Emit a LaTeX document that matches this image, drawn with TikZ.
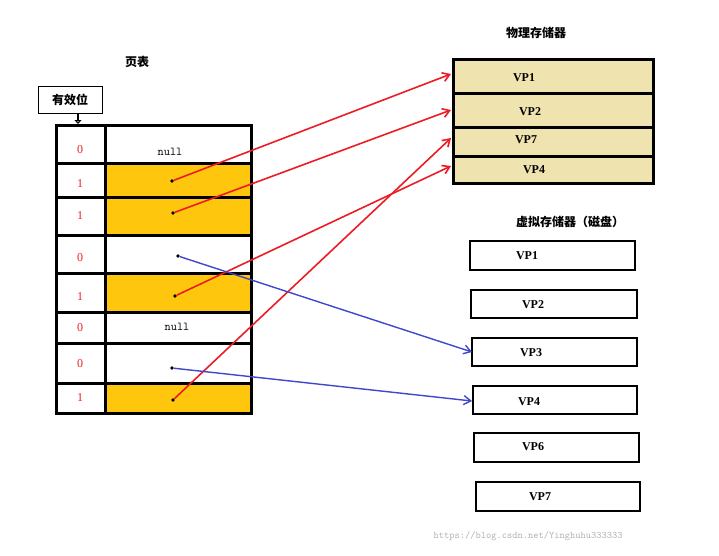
\documentclass[tikz,border=0pt]{standalone}
\usepackage{fontspec}
\setmainfont{Liberation Serif}
\newfontfamily\cjk{Noto Sans CJK SC}
\usetikzlibrary{arrows.meta}
\definecolor{gold}{RGB}{255,198,14}
\definecolor{beige}{RGB}{239,227,176}
\definecolor{myred}{RGB}{237,28,36}
\definecolor{myblue}{RGB}{63,72,204}
\begin{document}
\begin{tikzpicture}[x=1pt,y=-1pt,
 red/.style={myred,line width=1.6pt,-{Straight Barb[length=7pt,width=9pt]}},
 blue/.style={myblue,line width=1.4pt,-{Straight Barb[length=7pt,width=9pt]}},
 dot/.style={circle,fill=black,inner sep=1.3pt},
 bit/.style={text=myred,font=\large},
 vbox/.style={draw,line width=1.6pt,font=\bfseries\large},
 title/.style={font=\cjk\bfseries\large}]
\useasboundingbox (0,0) rectangle (719,555);
% table
\foreach \a/\b in {163/197,197/235,273/312,383/413} \fill[gold] (105,\a) rectangle (251,\b);
\draw[line width=3pt] (56,125) rectangle (251,413);
\foreach \y in {163,197,235,273,312,343,383} \draw[line width=3pt] (56,\y) -- (251,\y);
\draw[line width=3pt] (105,125) -- (105,413);
\foreach \y/\v [count=\i] in {150/0,184/1,216/1,258/0,297/1,328/0,364/0,398/1} \node[bit] (b\i) at (80,\y) {\v};
\node[font=\ttfamily\large] (n1) at (170,152) {null};
\node[font=\ttfamily\large] (n2) at (177,327) {null};
\node[title] (pt) at (137,62) {页表};
\node[draw,font=\cjk\bfseries\large,inner sep=1pt,minimum width=64pt,minimum height=27pt] (valid) at (70,100) {有效位};
\draw[line width=1.2pt,-{Triangle[open,length=4pt,width=7pt]}] (78,114) -- (78,124);
% dots
\node[dot] (d2) at (172,181) {};
\node[dot] (d3) at (173,213) {};
\node[dot] (d4) at (178,256) {};
\node[dot] (d5) at (175,296) {};
\node[dot] (d7) at (172,368) {};
\node[dot] (d8) at (173,400) {};
% physical memory
\node[title] (phy) at (536,33) {物理存储器};
\fill[beige] (453,59) rectangle (653,183);
\draw[line width=3pt] (453,59) rectangle (653,183);
\foreach \y in {93,127,156} \draw[line width=3pt] (453,\y) -- (653,\y);
\node[font=\bfseries\large] (p1) at (524,78) {VP1};
\node[font=\bfseries\large] (p2) at (530,112) {VP2};
\node[font=\bfseries\large] (p7) at (526,140) {VP7};
\node[font=\bfseries\large] (p4) at (534,170) {VP4};
\coordinate (t1) at (451,74);
\coordinate (t2) at (451,110);
\coordinate (t7) at (451,138);
\coordinate (t4) at (451,166);
% virtual
\node[title] (vir) at (570,222) {虚拟存储器（磁盘）};
\foreach \n/\x/\y/\xx/\yy in {v1/470/241/635/270, v2/471/290/637/318, v3/472/338/637/366, v4/473/386/637/414, v6/474/433/639/462, v7/476/482/640/511}
  \draw[line width=1.6pt] (\x,\y) rectangle (\xx,\yy);
\node[font=\bfseries\large] (q1) at (527,256) {VP1};
\node[font=\bfseries\large] (q2) at (533,305) {VP2};
\node[font=\bfseries\large] (q3) at (531,353) {VP3};
\node[font=\bfseries\large] (q4) at (529,402) {VP4};
\node[font=\bfseries\large] (q6) at (533,447) {VP6};
\node[font=\bfseries\large] (q7) at (540,497) {VP7};
\coordinate (s3) at (472,352);
\coordinate (s4) at (472,401);
% arrows
\draw[red] (d2) -- (t1);
\draw[red] (d3) -- (t2);
\draw[red] (d5) -- (t4);
\draw[red] (d8) -- (t7);
\draw[blue] (d4) -- (s3);
\draw[blue] (d7) -- (s4);
\node[text=gray!60,font=\ttfamily] (wm) at (528,536) {https://blog.csdn.net/Yinghuhu333333};
\end{tikzpicture}
\end{document}
